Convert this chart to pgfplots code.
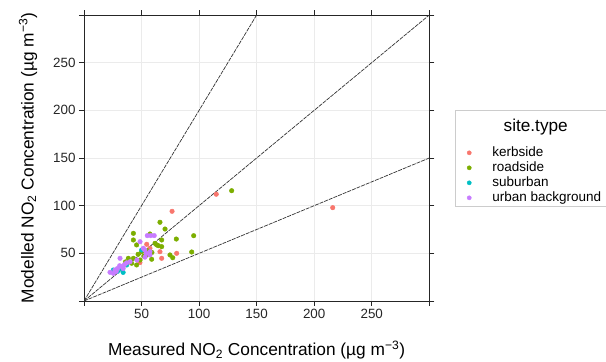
\documentclass[border=0pt]{standalone}
\usepackage{fontspec}
\setmainfont{Liberation Sans}
\usepackage{pgfplots}
\pgfplotsset{compat=1.18}
\definecolor{kerb}{HTML}{F8766D}
\definecolor{road}{HTML}{7CAE00}
\definecolor{suburb}{HTML}{00BFC4}
\definecolor{urban}{HTML}{C77CFF}
\begin{document}
\begin{tikzpicture}
\useasboundingbox (0,0) rectangle (606bp,362bp);
\begin{axis}[
  at={(84bp,61bp)}, anchor=south west,
  width=345.3bp, height=286bp, scale only axis,
  xmin=0, xmax=300, ymin=0, ymax=300,
  xtick={0,50,...,300}, ytick={0,50,...,300},
  xticklabels={,50,100,150,200,250,},
  yticklabels={,50,100,150,200,250,},
  tick align=outside, major tick length=5bp,
  xtick pos=both, ytick pos=both,
  tick style={color=black!85, line width=0.6bp},
  axis line style={black!85, line width=0.8bp},
  grid=major, grid style={color=black!8, line width=0.8bp},
  /pgf/number format/assume math mode=true,
  tick label style={font=\fontsize{13.4bp}{16bp}\selectfont, text=black!85},
  xlabel={Measured NO\textsubscript{2} Concentration (µg m\textsuperscript{−3})},
  ylabel={Modelled NO\textsubscript{2} Concentration (µg m\textsuperscript{−3})},
  label style={font=\fontsize{17.3bp}{20bp}\selectfont},
  x label style={at={(axis description cs:0.5,-0.171)}, anchor=center},
  y label style={at={(axis description cs:-0.162,0.5)}, anchor=center},
  legend style={at={(axis description cs:1.109,0.545)}, anchor=north west,
    draw=none, fill=none, inner sep=0pt, row sep=0pt, column sep=21bp,
    font=\fontsize{13.5bp}{15bp}\selectfont,
    nodes={inner xsep=0pt, inner ysep=1bp, text height=10bp, text depth=3bp}},
  legend cell align=left,
  legend image code/.code={\draw[#1, mark size=2.1bp] plot coordinates {(0bp,0bp)};},
]
\addplot[forget plot, black!80, line width=0.7bp, dash pattern=on 4bp off 1bp] coordinates {(0,0) (300,300)};
\addplot[forget plot, black!80, line width=0.7bp, dash pattern=on 4bp off 1bp] coordinates {(0,0) (150,300)};
\addplot[forget plot, black!80, line width=0.7bp, dash pattern=on 4bp off 1bp] coordinates {(0,0) (300,150)};

\addplot[only marks, mark=*, mark size=2.3bp, kerb] coordinates {
(114.9,112) (76.5,94.1) (216.1,97.9) (54.5,59.5) (66,51.7) (80.5,50) (67.5,44.8) (57.3,55.3) (48.6,40.3)
};
\addlegendentry{kerbside}
\addplot[only marks, mark=*, mark size=2.3bp, road] coordinates {
(128.3,115.7) (95.3,68.5) (93.6,51.4) (80.2,65) (66,82.6) (70.4,75.5) (42.9,71) (42.9,64) (67.5,64)
(45.7,58.8) (64.6,58) (67.5,57) (61.7,60.5) (50.1,51.7) (54.5,48.3) (42.9,44.8) (38.5,44.8) (48.7,43)
(74.7,48.3) (77.1,45.4) (58.8,43.8) (41.4,39.6) (45.7,37.8) (59,50.9) (55.3,52.6) (63.1,58.9) (57.3,70.3)
(52,47) (47,49) (36,41)
};
\addlegendentry{roadside}
\addplot[only marks, mark=*, mark size=2.3bp, suburb] coordinates {
(25.5,32.5) (32.8,33.3) (50.1,53.5) (37.1,37.8) (34,30) (29,31)
};
\addlegendentry{suburban}
\addplot[only marks, mark=*, mark size=2.3bp, urban] coordinates {
(22.6,30.1) (25.5,29) (26.9,32.5) (31.3,44.8) (29,34) (33,36) (35,38) (37,40) (40,41.2)
(48.7,62.2) (51.5,55.3) (52.8,53.5) (57.3,51.7) (57.3,48.3) (55,68.6) (58,68.6) (61,68.6)
(46,43) (53,46) (28,31) (31,37) (34,34) (54,50)
};
\addlegendentry{urban background}
\end{axis}
\draw[black!20, line width=0.8bp] (455bp,252bp) rectangle (620bp,156bp);
\node[font=\fontsize{17.2bp}{20bp}\selectfont, inner sep=0pt] at (535.7bp,235bp) {site.type};
\end{tikzpicture}
\end{document}
